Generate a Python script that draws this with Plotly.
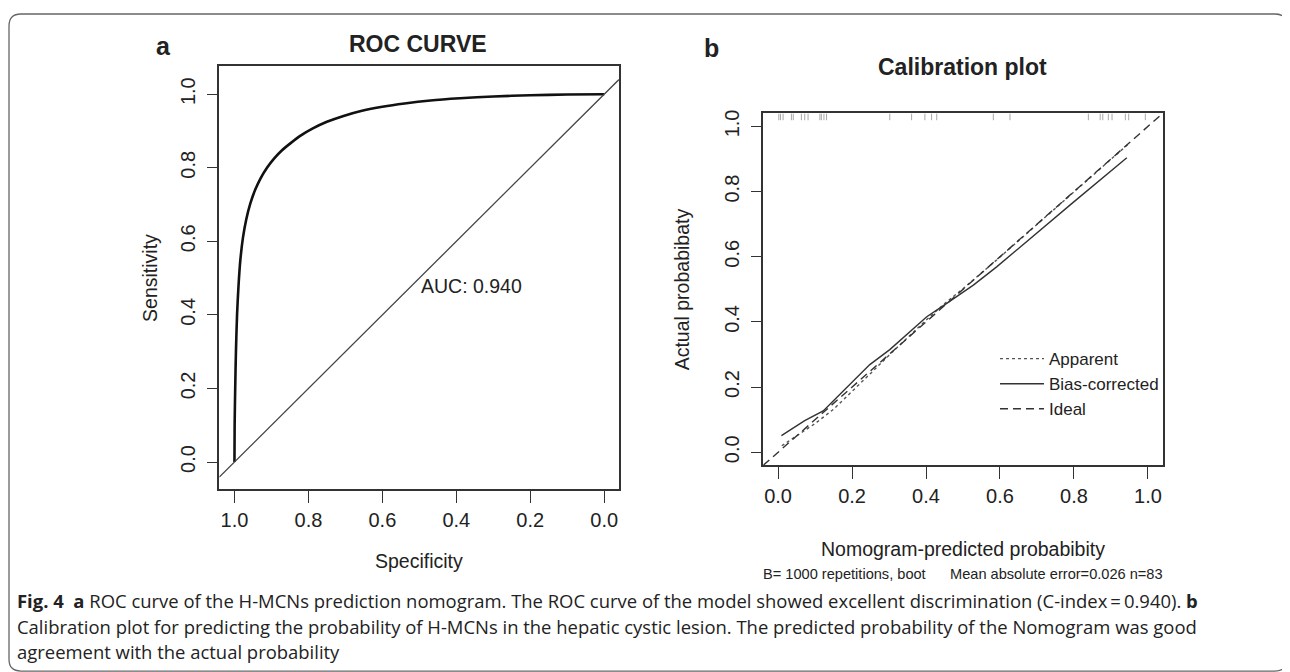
import plotly.graph_objects as go

# ------------------------------------------------------------------ data
# Panel a: smoothed ROC curve (specificity on a reversed x axis)
roc_specificity = [1.000, 0.9995, 0.998, 0.996, 0.993, 0.989, 0.984, 0.977, 0.968, 0.957,
                   0.944, 0.929, 0.912, 0.893, 0.872, 0.848, 0.820, 0.788, 0.750, 0.705,
                   0.655, 0.600, 0.540, 0.470, 0.390, 0.300, 0.200, 0.100, 0.000]
roc_sensitivity = [0.000, 0.100, 0.200, 0.300, 0.400, 0.480, 0.550, 0.610, 0.660, 0.703,
                   0.740, 0.772, 0.800, 0.825, 0.847, 0.867, 0.888, 0.907, 0.925, 0.941,
                   0.955, 0.966, 0.975, 0.983, 0.989, 0.994, 0.997, 0.9992, 1.000]
auc_text = "AUC: 0.940"
auc_pos = (0.500, 0.478)

# Panel b: calibration curves
cal_apparent_x = [0.010, 0.050, 0.100, 0.150, 0.200, 0.250, 0.300, 0.350, 0.400,
                  0.450, 0.500, 0.600, 0.700, 0.800, 0.900, 0.945]
cal_apparent_y = [0.020, 0.050, 0.088, 0.132, 0.186, 0.242, 0.298, 0.352, 0.405,
                  0.456, 0.502, 0.599, 0.699, 0.799, 0.899, 0.944]
cal_bias_x = [0.009, 0.072, 0.122, 0.149, 0.203, 0.248, 0.302, 0.357, 0.402,
              0.456, 0.528, 0.591, 0.690, 0.798, 0.943]
cal_bias_y = [0.051, 0.097, 0.127, 0.157, 0.218, 0.269, 0.315, 0.371, 0.416,
              0.457, 0.513, 0.569, 0.665, 0.767, 0.904]
# rug of predicted probabilities (top of panel b)
cal_rug = [0.002, 0.0065, 0.0135, 0.036, 0.041, 0.063, 0.072, 0.081, 0.113, 0.117,
           0.124, 0.131, 0.302, 0.361, 0.397, 0.415, 0.429, 0.582, 0.627, 0.839,
           0.871, 0.878, 0.893, 0.903, 0.939, 0.948, 0.993]
legend_names = ["Apparent", "Bias-corrected", "Ideal"]

tick_vals = [0.0, 0.2, 0.4, 0.6, 0.8, 1.0]
tick_text = ["0.0", "0.2", "0.4", "0.6", "0.8", "1.0"]

subtitle_b = "B= 1000 repetitions, boot" + "\u00a0" * 6 + "Mean absolute error=0.026 n=83"
caption_1 = ("<b>Fig. 4</b>\u00a0\u00a0<b>a</b> ROC curve of the H-MCNs prediction nomogram. "
             "The ROC curve of the model showed excellent discrimination (C-index\u2009=\u20090.940). <b>b</b>")
caption_2 = ("Calibration plot for predicting the probability of H-MCNs in the hepatic cystic lesion. "
             "The predicted probability of the Nomogram was good")
caption_3 = "agreement with the actual probability"

# ------------------------------------------------------------------ layout helpers
W, H = 1290, 672
PAGE = 8  # default body margin of the html page: the figure starts 8px in


def px(x):
    return (x - PAGE) / W


def py(y):
    return 1 - (y - PAGE) / H


SANS = "Liberation Sans, Arial, Helvetica, sans-serif"
CAPF = "Open Sans, Noto Sans, sans-serif"
INK = "#222222"
AX = "#333333"

ROC_XR = [1.041, -0.040]
ROC_YR = [-0.0746, 1.0757]
CAL_R = [-0.040, 1.040]
RUG_LEN = 0.021

fig = go.Figure()

# ROC curve
fig.add_trace(go.Scatter(x=roc_specificity, y=roc_sensitivity, mode="lines",
                         line=dict(color="#111111", width=2.6, shape="spline", smoothing=0.7),
                         showlegend=False, xaxis="x", yaxis="y", hoverinfo="skip"))
# chance diagonal across the whole panel
fig.add_trace(go.Scatter(x=ROC_XR, y=[1 - v for v in ROC_XR], mode="lines",
                         line=dict(color="#444444", width=1.3),
                         showlegend=False, xaxis="x", yaxis="y", hoverinfo="skip"))

# rug
rx, ry = [], []
for v in cal_rug:
    rx += [v, v, None]
    ry += [CAL_R[1], CAL_R[1] - RUG_LEN, None]
fig.add_trace(go.Scatter(x=rx, y=ry, mode="lines", line=dict(color="#a8a8a8", width=1),
                         showlegend=False, xaxis="x2", yaxis="y2", hoverinfo="skip"))

fig.add_trace(go.Scatter(x=cal_apparent_x, y=cal_apparent_y, mode="lines", name=legend_names[0],
                         line=dict(color="#555555", width=1.4, dash="dot"),
                         xaxis="x2", yaxis="y2"))
fig.add_trace(go.Scatter(x=cal_bias_x, y=cal_bias_y, mode="lines", name=legend_names[1],
                         line=dict(color="#333333", width=1.4),
                         xaxis="x2", yaxis="y2"))
fig.add_trace(go.Scatter(x=CAL_R, y=CAL_R, mode="lines", name=legend_names[2],
                         line=dict(color="#333333", width=1.4, dash="8px,5px"),
                         xaxis="x2", yaxis="y2"))


def axis(domain, rng, anchor, is_y, ticklen):
    d = dict(domain=domain, range=rng, anchor=anchor, tickmode="array",
             tickvals=tick_vals, ticktext=tick_text, ticks="outside", ticklen=ticklen,
             tickwidth=1.4, tickcolor=AX, showline=True, mirror=True, linecolor=AX,
             linewidth=1.6, showgrid=False, zeroline=False, fixedrange=True,
             tickfont=dict(family=SANS, size=20, color=INK))
    if is_y:
        d["tickangle"] = -90
        d["ticklabelstandoff"] = 4
    return d


fig.update_layout(
    width=W, height=H,
    margin=dict(l=0, r=0, t=0, b=0),
    paper_bgcolor="white", plot_bgcolor="white",
    xaxis=axis([px(219.3), px(619.0)], ROC_XR, "y", False, 12),
    yaxis=axis([py(488.3), py(62.7)], ROC_YR, "x", True, 11),
    xaxis2=axis([px(763.3), px(1162.7)], CAL_R, "y2", False, 12),
    yaxis2=axis([py(464.0), py(110.0)], CAL_R, "x2", True, 11),
    legend=dict(x=px(995), y=py(339), xanchor="left", yanchor="top",
                bgcolor="rgba(0,0,0,0)", font=dict(family=SANS, size=17, color=INK),
                tracegroupgap=0, itemwidth=44),
    showlegend=True,
)


def ann(text, x, y, size, family=SANS, angle=0, xanchor="center", color=INK, **kw):
    fig.add_annotation(text=text, x=x, y=y, xref=kw.pop("xref", "paper"), yref=kw.pop("yref", "paper"),
                       showarrow=False, xanchor=xanchor, yanchor="middle", textangle=angle,
                       font=dict(family=family, size=size, color=color), **kw)


ann("<b>a</b>", px(163.3), py(42), 25)
ann("<b>ROC CURVE</b>", px(418.3), py(40), 23)
ann("<b>b</b>", px(711.7), py(44), 25)
ann("<b>Calibration plot</b>", px(962.7), py(63.3), 23)
ann("Sensitivity", px(150), py(275.5), 19.5, angle=-90)
ann("Specificity", px(419), py(560), 19.5)
ann("Actual probabibaty", px(682), py(287), 19.5, angle=-90)
ann("Nomogram-predicted probabibity", px(963), py(548.3), 19.5)
ann(subtitle_b, px(963), py(573.3), 14.6)
ann(auc_text, auc_pos[0], auc_pos[1], 19.5, xanchor="left", xref="x", yref="y")
ann(caption_1, px(15), py(600.5), 18.45, family=CAPF, xanchor="left")
ann(caption_2, px(15), py(626), 18.45, family=CAPF, xanchor="left")
ann(caption_3, px(15), py(651.5), 18.45, family=CAPF, xanchor="left")

# rounded outer frame of the figure panel
L, R_, T, B, r = 9, 1287, 10, 671, 12
path = (f"M {px(L)},{py(T + r)} Q {px(L)},{py(T)} {px(L + r)},{py(T)} "
        f"L {px(R_ - r)},{py(T)} Q {px(R_)},{py(T)} {px(R_)},{py(T + r)} "
        f"L {px(R_)},{py(B - r)} Q {px(R_)},{py(B)} {px(R_ - r)},{py(B)} "
        f"L {px(L + r)},{py(B)} Q {px(L)},{py(B)} {px(L)},{py(B - r)} Z")
fig.add_shape(type="path", path=path, xref="paper", yref="paper",
              line=dict(color="#666666", width=1.3), layer="below")

fig.write_html("out.html")
